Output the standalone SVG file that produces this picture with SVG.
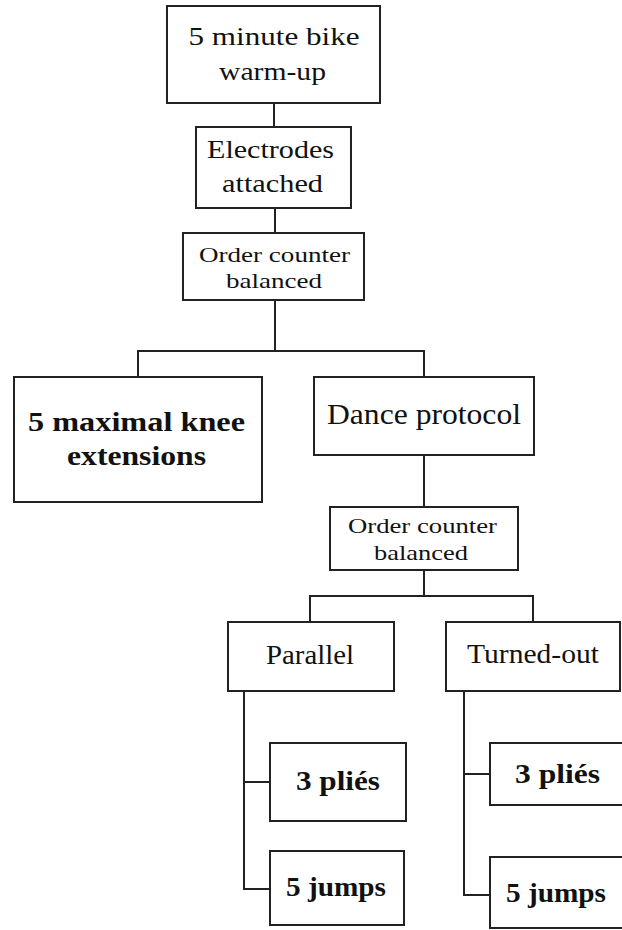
<svg xmlns="http://www.w3.org/2000/svg" width="622" height="930" viewBox="0 0 622 930">
<style>
.box{fill:#fff;stroke:#222;stroke-width:2}
.lk{fill:none;stroke:#222;stroke-width:2}
.t{font-family:'Liberation Serif','Times New Roman',Times,serif;fill:#111;text-anchor:middle}
.b{font-weight:bold}
</style>
<rect width="622" height="930" fill="#fff"/>
<g id="connectors">
<path class="lk" d="M274,103V127"/>
<path class="lk" d="M275,208V233"/>
<path class="lk" d="M275,300V351M138,377V351H424V377"/>
<path class="lk" d="M424,455V507"/>
<path class="lk" d="M424,570V596M310,622V596H533V622"/>
<path class="lk" d="M244,691V889H270M244,782H270"/>
<path class="lk" d="M464,691V895H490M464,774H490"/>
</g>
<g id="warmup">
<rect class="box" x="167" y="6" width="213" height="97"/>
<text class="t" x="274" y="45" font-size="26" textLength="171" lengthAdjust="spacingAndGlyphs">5 minute  bike</text>
<text class="t" x="272.5" y="80" font-size="26" textLength="107" lengthAdjust="spacingAndGlyphs">warm-up</text>
</g>
<g id="electrodes">
<rect class="box" x="196" y="127" width="155" height="81"/>
<text class="t" x="270.5" y="158" font-size="26" textLength="127" lengthAdjust="spacingAndGlyphs">Electrodes</text>
<text class="t" x="272.5" y="192" font-size="26" textLength="101" lengthAdjust="spacingAndGlyphs">attached</text>
</g>
<g id="order1">
<rect class="box" x="183" y="233" width="181" height="67"/>
<text class="t" x="274.5" y="262" font-size="22" textLength="151" lengthAdjust="spacingAndGlyphs">Order counter</text>
<text class="t" x="274" y="288" font-size="22" textLength="96" lengthAdjust="spacingAndGlyphs">balanced</text>
</g>
<g id="knee">
<rect class="box" x="14" y="377" width="248" height="125"/>
<text class="t b" x="136.5" y="431" font-size="28" textLength="217" lengthAdjust="spacingAndGlyphs">5 maximal  knee</text>
<text class="t b" x="136.5" y="465" font-size="28" textLength="139" lengthAdjust="spacingAndGlyphs">extensions</text>
</g>
<g id="dance">
<rect class="box" x="314" y="377" width="220" height="78"/>
<text class="t" x="424" y="424" font-size="29" textLength="194" lengthAdjust="spacingAndGlyphs">Dance protocol</text>
</g>
<g id="order2">
<rect class="box" x="330" y="507" width="188" height="63"/>
<text class="t" x="422.5" y="533" font-size="22" textLength="149" lengthAdjust="spacingAndGlyphs">Order counter</text>
<text class="t" x="421" y="560" font-size="22" textLength="94" lengthAdjust="spacingAndGlyphs">balanced</text>
</g>
<g id="parallel">
<rect class="box" x="228" y="622" width="166" height="69"/>
<text class="t" x="310" y="664" font-size="27" textLength="88" lengthAdjust="spacingAndGlyphs">Parallel</text>
</g>
<g id="turnedout">
<rect class="box" x="446" y="622" width="174" height="69"/>
<text class="t" x="533" y="663" font-size="27" textLength="132" lengthAdjust="spacingAndGlyphs">Turned-out</text>
</g>
<g id="plies-parallel">
<rect class="box" x="270" y="743" width="136" height="78"/>
<text class="t b" x="338" y="790" font-size="28" textLength="84" lengthAdjust="spacingAndGlyphs">3 pliés</text>
</g>
<g id="jumps-parallel">
<rect class="box" x="270" y="851" width="134" height="74"/>
<text class="t b" x="336" y="896" font-size="28" textLength="100" lengthAdjust="spacingAndGlyphs">5 jumps</text>
</g>
<g id="plies-turnedout">
<rect class="box" x="490" y="743" width="150" height="62"/>
<text class="t b" x="557.5" y="783" font-size="28" textLength="85" lengthAdjust="spacingAndGlyphs">3 pliés</text>
</g>
<g id="jumps-turnedout">
<rect class="box" x="490" y="857" width="150" height="71"/>
<text class="t b" x="556" y="902" font-size="28" textLength="100" lengthAdjust="spacingAndGlyphs">5 jumps</text>
</g>
</svg>
